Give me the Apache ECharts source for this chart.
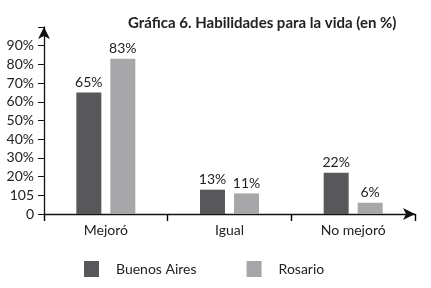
<!DOCTYPE html>
<html>
<head>
<meta charset="utf-8">
<script src="https://cdn.jsdelivr.net/npm/echarts@6/dist/echarts.min.js"></script>
<style>
html,body{margin:0;padding:0;background:#fff;}
#c{width:431px;height:288px;}
</style>
</head>
<body>
<div id="c"></div>
<script>
const categories = ['Mejoró', 'Igual', 'No mejoró'];
const buenosAires = [65, 13, 22];
const rosario = [83, 11, 6];
const seriesNames = ['Buenos Aires', 'Rosario'];
const yTickValues = [0, 10, 20, 30, 40, 50, 60, 70, 80, 90];
const yTickLabels = ['0', '105', '20%', '30%', '40%', '50%', '60%', '70%', '80%', '90%'];
const title = 'Gráfica 6. Habilidades para la vida (en %)';

const FONT = 'Lato';
const chart = echarts.init(document.getElementById('c'), null, {renderer: 'canvas'});
chart.setOption({
  animation: false,
  backgroundColor: '#fff',
  title: {
    text: title,
    left: 123, top: 11,
    textStyle: {fontFamily: FONT, fontWeight: 'bold', fontSize: 15, color: '#222'}
  },
  legend: {
    data: seriesNames,
    left: 84, top: 261, padding: 0,
    itemWidth: 15, itemHeight: 16, itemGap: 50,
    icon: 'rect',
    textStyle: {fontFamily: FONT, fontSize: 14, color: '#222', padding: [0, 0, 0, 12]}
  },
  grid: {left: 44, right: 16, top: 27, bottom: 74, containLabel: false},
  xAxis: {
    type: 'category',
    data: categories,
    axisLine: {lineStyle: {color: '#111', width: 1.3}, symbol: ['none', 'arrow'], symbolSize: [9, 12]},
    axisTick: {show: true, length: 7, lineStyle: {color: '#000', width: 1.4}},
    axisLabel: {fontFamily: FONT, fontSize: 14, color: '#222', margin: 9}
  },
  yAxis: {
    type: 'value',
    min: 0, max: 100, interval: 10,
    splitLine: {show: false},
    axisLine: {show: true, lineStyle: {color: '#111', width: 1.3}, symbol: ['none', 'arrow'], symbolSize: [9, 12]},
    axisTick: {show: true, length: 6, lineStyle: {color: '#111'}},
    axisLabel: {
      fontFamily: FONT, fontSize: 14, color: '#222', margin: 10,
      formatter: function (v) { const i = yTickValues.indexOf(v); return i >= 0 ? yTickLabels[i] : ''; }
    }
  },
  series: [
    {
      name: seriesNames[0], type: 'bar', data: buenosAires,
      barWidth: 25, barGap: '36%',
      itemStyle: {color: '#58585a'},
      label: {show: true, position: 'top', distance: 3, formatter: '{c}%', fontFamily: FONT, fontSize: 14, color: '#222'}
    },
    {
      name: seriesNames[1], type: 'bar', data: rosario,
      barWidth: 25, barGap: '36%',
      itemStyle: {color: '#a7a7a9'},
      label: {show: true, position: 'top', distance: 3, formatter: '{c}%', fontFamily: FONT, fontSize: 14, color: '#222'}
    }
  ]
});
</script>
</body>
</html>
